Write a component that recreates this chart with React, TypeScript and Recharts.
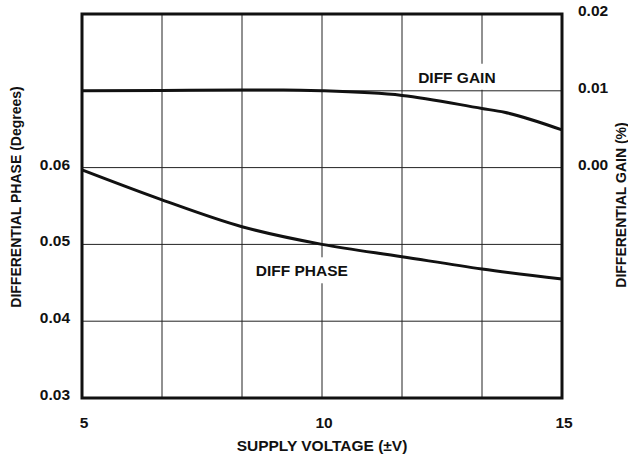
import {
  LineChart,
  Line,
  XAxis,
  YAxis,
  CartesianGrid,
  ReferenceArea,
  ReferenceDot,
} from 'recharts';

// supply voltage (±V) vs differential phase (degrees)
const phaseVoltage = [5, 6.667, 8.333, 10, 11.667, 13.333, 15];
const phaseValues = [0.0597, 0.0558, 0.0523, 0.05, 0.0484, 0.0468, 0.0455];

// supply voltage (±V) vs differential gain (%)
const gainVoltage = [5, 6.667, 8.333, 9.2, 10, 11.667, 13.333, 13.8, 15];
const gainValues = [0.01, 0.01005, 0.0101, 0.0101, 0.01, 0.0094, 0.0077, 0.0072, 0.0049];

const xTicks = [5, 20 / 3, 25 / 3, 10, 35 / 3, 40 / 3, 15];
const xLabels = [5, 10, 15];
const phaseTicks = [0.03, 0.04, 0.05, 0.06, 0.07, 0.08];
const phaseLabels = [0.03, 0.04, 0.05, 0.06];
const gainTicks = [-0.03, -0.02, -0.01, 0, 0.01, 0.02];
const gainLabels = [0, 0.01, 0.02];

const phaseData = phaseVoltage.map((v, i) => ({ v, phase: phaseValues[i] }));
const gainData = gainVoltage.map((v, i) => ({ v, gain: gainValues[i] }));

const FONT = 'Liberation Sans, Arial, Helvetica, sans-serif';
const SIZE = 15.5;
const near = (list: number[], val: number) => list.some((l) => Math.abs(l - val) < 1e-6);

function LeftTick({ x, y, payload }: any) {
  if (!near(phaseLabels, payload.value)) return null;
  return (
    <text x={x - 4} y={y} dy={2} textAnchor="end" fontFamily={FONT} fontWeight="bold" fontSize={SIZE} fill="#111">
      {payload.value.toFixed(2)}
    </text>
  );
}

function RightTick({ x, y, payload }: any) {
  if (!near(gainLabels, payload.value)) return null;
  return (
    <text x={x + 8} y={y} dy={2} textAnchor="start" fontFamily={FONT} fontWeight="bold" fontSize={SIZE} fill="#111">
      {payload.value.toFixed(2)}
    </text>
  );
}

function BottomTick({ x, y, payload }: any) {
  if (!near(xLabels, payload.value)) return null;
  return (
    <text x={x + 2} y={y} dy={22} textAnchor="middle" fontFamily={FONT} fontWeight="bold" fontSize={SIZE} fill="#111">
      {Math.round(payload.value)}
    </text>
  );
}

function boxLabel(text: string, w: number) {
  return ({ cx, cy }: any) => (
    <g>
      <rect x={cx - w / 2} y={cy - 14} width={w} height={26} fill="#fff" />
      <text x={cx} y={cy} dy={5} textAnchor="middle" fontFamily={FONT} fontWeight="bold" fontSize={SIZE} fill="#111">
        {text}
      </text>
    </g>
  );
}

export default function App() {
  return (
    <div style={{ width: 628, height: 459, background: '#fff' }}>
      <style>{'body{margin:0}'}</style>
      <LineChart width={628} height={459} margin={{ top: 14, right: 0, bottom: 0, left: 0 }}>
        <CartesianGrid stroke="#222" strokeWidth={1} yAxisId="phase" />
        <XAxis
          dataKey="v"
          type="number"
          domain={[5, 15]}
          ticks={xTicks}
          interval={0}
          tick={<BottomTick />}
          tickLine={false}
          axisLine={false}
          height={61}
          allowDuplicatedCategory={false}
          label={({ viewBox }: any) => (
            <text
              x={viewBox.x + viewBox.width / 2}
              y={viewBox.y + 53}
              textAnchor="middle"
              fontFamily={FONT}
              fontWeight="bold"
              fontSize={SIZE}
              fill="#111"
            >
              SUPPLY VOLTAGE (±V)
            </text>
          )}
        />
        <YAxis
          yAxisId="phase"
          orientation="left"
          domain={[0.03, 0.08]}
          ticks={phaseTicks}
          interval={0}
          tick={<LeftTick />}
          tickLine={false}
          axisLine={false}
          width={82}
          label={({ viewBox }: any) => (
            <text
              x={16}
              y={viewBox.y + viewBox.height / 2 - 9}
              transform={`rotate(-90 16 ${viewBox.y + viewBox.height / 2 - 9})`}
              dy={5}
              textAnchor="middle"
              fontFamily={FONT}
              fontWeight="bold"
              fontSize={14}
              fill="#111"
            >
              DIFFERENTIAL PHASE (Degrees)
            </text>
          )}
        />
        <YAxis
          yAxisId="gain"
          orientation="right"
          domain={[-0.03, 0.02]}
          ticks={gainTicks}
          interval={0}
          tick={<RightTick />}
          tickLine={false}
          axisLine={false}
          width={66}
          label={({ viewBox }: any) => (
            <text
              x={viewBox.x + 59}
              y={viewBox.y + viewBox.height / 2 - 1}
              transform={`rotate(-90 ${viewBox.x + 59} ${viewBox.y + viewBox.height / 2 - 1})`}
              dy={5}
              textAnchor="middle"
              fontFamily={FONT}
              fontWeight="bold"
              fontSize={14}
              fill="#111"
            >
              DIFFERENTIAL GAIN (%)
            </text>
          )}
        />
        <ReferenceDot
          yAxisId="gain"
          x={12.81}
          y={0.0117}
          ifOverflow="visible"
          shape={boxLabel('DIFF GAIN', 98)}
        />
        <ReferenceDot
          yAxisId="phase"
          x={9.58}
          y={0.0465}
          ifOverflow="visible"
          shape={boxLabel('DIFF PHASE', 106)}
        />
        <Line
          yAxisId="phase"
          data={phaseData}
          dataKey="phase"
          type="monotone"
          stroke="#111"
          strokeWidth={3}
          dot={false}
          isAnimationActive={false}
        />
        <Line
          yAxisId="gain"
          data={gainData}
          dataKey="gain"
          type="monotone"
          stroke="#111"
          strokeWidth={3}
          dot={false}
          isAnimationActive={false}
        />
        <ReferenceArea
          yAxisId="phase"
          x1={5}
          x2={15}
          y1={0.03}
          y2={0.08}
          fill="none"
          fillOpacity={0}
          stroke="#111"
          strokeWidth={3}
          ifOverflow="visible"
        />
      </LineChart>
    </div>
  );
}
